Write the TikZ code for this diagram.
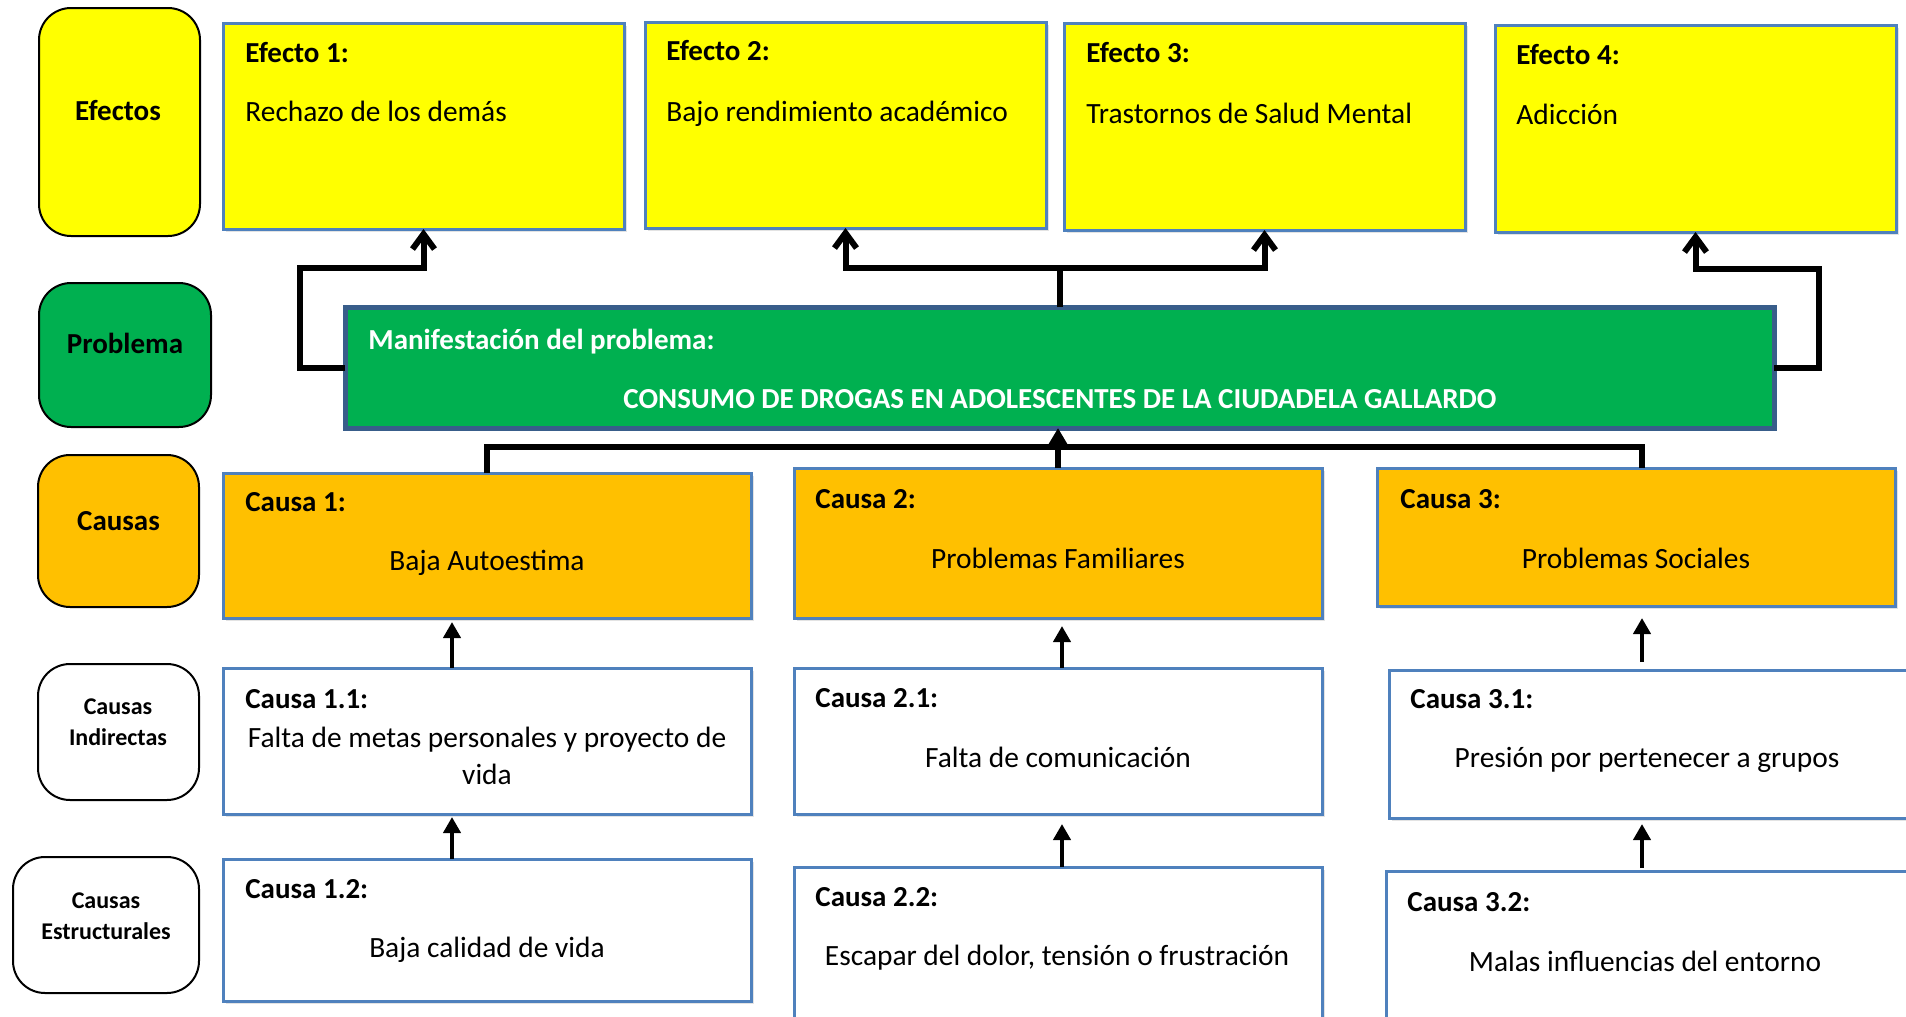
\documentclass[tikz,border=0pt]{standalone}
\usepackage{fontspec}
\setmainfont{Carlito}
\usetikzlibrary{arrows.meta,fit,shadows}
\definecolor{effyellow}{HTML}{FFFF00}
\definecolor{probgreen}{HTML}{00B050}
\definecolor{causeorange}{HTML}{FFC000}
\definecolor{boxblue}{HTML}{4F81BD}
\definecolor{probborder}{HTML}{385D8A}
\begin{document}
\begin{tikzpicture}[x=0.5pt,y=-0.5pt,
  lbl/.style={draw=black, line width=1pt, rounded corners=16pt, inner sep=0pt, outer sep=0pt},
  rbox/.style={draw=boxblue, line width=1.5pt, inner sep=0pt, outer sep=0pt,
    drop shadow={opacity=0.22, shadow xshift=1.5pt, shadow yshift=-1.5pt}},
  bodytxt/.style={font=\fontsize{14.7pt}{18.5pt}\selectfont, inner sep=0pt},
  headtxt/.style={font=\fontsize{14.5pt}{18.5pt}\selectfont\bfseries, inner sep=0pt, anchor=base west},
  lbltxt/.style={font=\fontsize{14.5pt}{18.5pt}\selectfont\bfseries, inner sep=0pt, anchor=base},
  smalllbl/.style={font=\fontsize{12pt}{15.5pt}\selectfont\bfseries, inner sep=0pt, align=center},
  effline/.style={line width=3pt, -{Straight Barb[length=7.5pt,width=11pt]}},
  busline/.style={line width=3pt},
  smallarr/.style={line width=2pt, -{Triangle[length=8pt,width=8.5pt]}}
]
\clip (0,0) rectangle (1906,1017);
\fill[white] (0,0) rectangle (1906,1017);

% ---------- left labels ----------
\node[lbl, fill=effyellow, fit={(39,8)(200,236)}] (lefe) {};
\node[lbltxt] (lefet) at (118,120) {Efectos};
\node[lbl, fill=probgreen, fit={(39,283)(211,427)}] (lprob) {};
\node[lbltxt] (lprobt) at (125,353) {Problema};
\node[lbl, fill=causeorange, fit={(38,455)(199,607)}] (lcau) {};
\node[lbltxt] (lcaut) at (118.5,530) {Causas};
\node[lbl, fill=white, fit={(38,664)(199,800)}] (lind) {};
\node[smalllbl] (lindt) at (118,722) {Causas\\Indirectas};
\node[lbl, fill=white, fit={(13,857)(199,993)}] (lest) {};
\node[smalllbl] (lestt) at (106,916) {Causas\\Estructurales};

% ---------- effects ----------
\node[rbox, fill=effyellow, fit={(223,23)(624,229)}] (e1) {};
\node[headtxt] (e1h) at (245,62) {Efecto 1:};
\node[bodytxt, anchor=base west] (e1b) at (245,121) {Rechazo de los demás};
\node[rbox, fill=effyellow, fit={(645,22)(1046,228)}] (e2) {};
\node[headtxt] (e2h) at (666,61) {Efecto 2:};
\node[bodytxt, anchor=base west] (e2b) at (666,121) {Bajo rendimiento académico};
\node[rbox, fill=effyellow, fit={(1064,23)(1465,230)}] (e3) {};
\node[headtxt] (e3h) at (1086,62) {Efecto 3:};
\node[bodytxt, anchor=base west] (e3b) at (1086,123) {Trastornos de Salud Mental};
\node[rbox, fill=effyellow, fit={(1495,25)(1896,232)}] (e4) {};
\node[headtxt] (e4h) at (1516,64) {Efecto 4:};
\node[bodytxt, anchor=base west] (e4b) at (1516,124) {Adicción};

% ---------- problem ----------
\node[draw=probborder, line width=2.5pt, fill=probgreen, inner sep=0pt, outer sep=0pt,
  drop shadow={opacity=0.22, shadow xshift=1.5pt, shadow yshift=-1.5pt},
  fit={(345,307)(1774,428)}] (prob) {};
\node[headtxt, text=white] (probh) at (368,349) {Manifestación del problema:};
\node[bodytxt, font=\fontsize{14.5pt}{18.5pt}\selectfont\bfseries, text=white, anchor=base] (probt) at (1060,408) {CONSUMO DE DROGAS EN ADOLESCENTES DE LA CIUDADELA GALLARDO};

% ---------- causes ----------
\node[rbox, fill=causeorange, fit={(223,473)(751,618)}] (c1) {};
\node[headtxt] (c1h) at (245,511) {Causa 1:};
\node[bodytxt, anchor=base] (c1b) at (487,570) {Baja Autoestima};
\node[rbox, fill=causeorange, fit={(794,468)(1322,618)}] (c2) {};
\node[headtxt] (c2h) at (815,508) {Causa 2:};
\node[bodytxt, anchor=base] (c2b) at (1058,568) {Problemas Familiares};
\node[rbox, fill=causeorange, fit={(1377,468)(1895,606)}] (c3) {};
\node[headtxt] (c3h) at (1400,508) {Causa 3:};
\node[bodytxt, anchor=base] (c3b) at (1636,568) {Problemas Sociales};

% ---------- indirect causes ----------
\node[rbox, fill=white, fit={(223,668)(751,814)}] (c11) {};
\node[headtxt] (c11h) at (245,708) {Causa 1.1:};
\node[bodytxt, align=center] (c11b) at (487,756) {Falta de metas personales y proyecto de\\vida};
\node[rbox, fill=white, fit={(794,668)(1322,814)}] (c21) {};
\node[headtxt] (c21h) at (815,707) {Causa 2.1:};
\node[bodytxt, anchor=base] (c21b) at (1058,767) {Falta de comunicación};
\node[rbox, fill=white, fit={(1389,670)(1930,818)}] (c31) {};
\node[headtxt] (c31h) at (1410,708) {Causa 3.1:};
\node[bodytxt, anchor=base] (c31b) at (1647,767) {Presión por pertenecer a grupos};

% ---------- structural causes ----------
\node[rbox, fill=white, fit={(223,859)(751,1001)}] (c12) {};
\node[headtxt] (c12h) at (245,898) {Causa 1.2:};
\node[bodytxt, anchor=base] (c12b) at (487,957) {Baja calidad de vida};
\node[rbox, fill=white, fit={(794,867)(1322,1040)}] (c22) {};
\node[headtxt] (c22h) at (815,906) {Causa 2.2:};
\node[bodytxt, anchor=base] (c22b) at (1057,965) {Escapar del dolor, tensión o frustración};
\node[rbox, fill=white, fit={(1386,871)(1930,1040)}] (c32) {};
\node[headtxt] (c32h) at (1407,911) {Causa 3.2:};
\node[bodytxt, anchor=base] (c32b) at (1645,971) {Malas influencias del entorno};

% ---------- connectors problem -> effects ----------
\coordinate (lbend) at (300,268);
\coordinate (mbend) at (1059.5,268);
\coordinate (rbend) at (1819,269);
\draw[effline] (prob.west) -| (lbend) -| (e1.south);
\draw[effline] (prob.north) -- (mbend) -| (e2.south);
\draw[effline] (mbend) -| (e3.south);
\draw[effline] (prob.east) -| (rbend) -| (e4.south);

% ---------- connectors causes -> problem ----------
\coordinate (bus) at (0,447);
\coordinate (a1) at (452,0);
\coordinate (a2) at (1062,0);
\coordinate (a3) at (1642,0);
\draw[busline] (c1.north) -- (c1.north |- bus) -- (a3 |- bus) -- (c3.north -| a3);
\draw[busline, -{Triangle[length=10pt,width=11pt]}] (c2.north) -- (c2.north |- prob.south);

% ---------- small arrows ----------
\draw[smallarr, shorten >=2pt] (c11.north -| a1) -- (c1.south -| a1);
\draw[smallarr, shorten >=1.5pt] (c12.north -| a1) -- (c11.south -| a1);
\draw[smallarr, shorten >=4pt] (c21.north -| a2) -- (c2.south -| a2);
\draw[smallarr, shorten >=5pt] (c22.north -| a2) -- (c21.south -| a2);
\draw[smallarr, shorten >=6pt, shorten <=4pt] (c31.north -| a3) -- (c3.south -| a3);
\draw[smallarr, shorten >=3pt, shorten <=1.5pt] (c32.north -| a3) -- (c31.south -| a3);
\end{tikzpicture}
\end{document}
